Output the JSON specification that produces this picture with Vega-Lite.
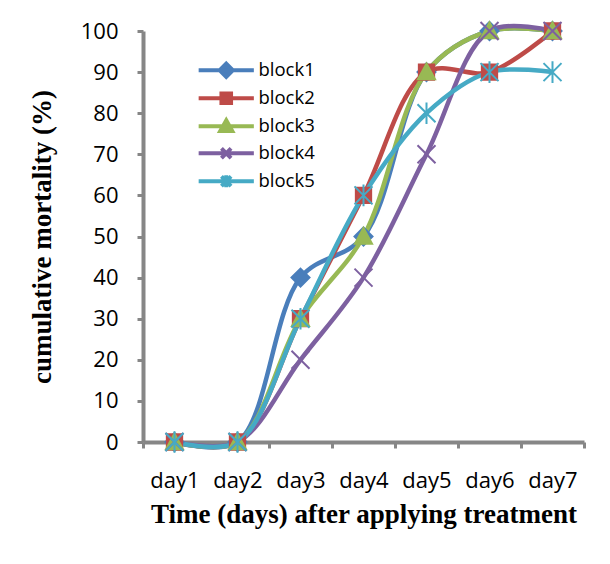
{
  "$schema": "https://vega.github.io/schema/vega-lite/v6.json",
  "width": 441,
  "height": 411,
  "autosize": "none",
  "padding": {"left": 143, "top": 31, "right": 26, "bottom": 122},
  "background": "white",
  "config": {
    "view": {"stroke": null},
    "axis": {
      "domainColor": "#868686",
      "domainWidth": 4,
      "tickColor": "#868686",
      "tickWidth": 3,
      "tickSize": 6,
      "grid": false,
      "labelFont": "Open Sans",
      "labelFontSize": 22,
      "labelColor": "#000000",
      "titleFont": "Liberation Serif",
      "titleFontSize": 27,
      "titleFontWeight": "bold",
      "titleColor": "#000000"
    },
    "legend": {
      "labelFont": "Open Sans",
      "labelFontSize": 18.5,
      "labelColor": "#000000"
    }
  },
  "resolve": {"legend": {"color": "independent", "shape": "independent", "stroke": "independent"}},
  "data": {
    "values": [
      {"day": "day1", "block": "block1", "mortality": 0},
      {"day": "day2", "block": "block1", "mortality": 0},
      {"day": "day3", "block": "block1", "mortality": 40},
      {"day": "day4", "block": "block1", "mortality": 50},
      {"day": "day5", "block": "block1", "mortality": 90},
      {"day": "day6", "block": "block1", "mortality": 100},
      {"day": "day7", "block": "block1", "mortality": 100},
      {"day": "day1", "block": "block2", "mortality": 0},
      {"day": "day2", "block": "block2", "mortality": 0},
      {"day": "day3", "block": "block2", "mortality": 30},
      {"day": "day4", "block": "block2", "mortality": 60},
      {"day": "day5", "block": "block2", "mortality": 90},
      {"day": "day6", "block": "block2", "mortality": 90},
      {"day": "day7", "block": "block2", "mortality": 100},
      {"day": "day1", "block": "block3", "mortality": 0},
      {"day": "day2", "block": "block3", "mortality": 0},
      {"day": "day3", "block": "block3", "mortality": 30},
      {"day": "day4", "block": "block3", "mortality": 50},
      {"day": "day5", "block": "block3", "mortality": 90},
      {"day": "day6", "block": "block3", "mortality": 100},
      {"day": "day7", "block": "block3", "mortality": 100},
      {"day": "day1", "block": "block4", "mortality": 0},
      {"day": "day2", "block": "block4", "mortality": 0},
      {"day": "day3", "block": "block4", "mortality": 20},
      {"day": "day4", "block": "block4", "mortality": 40},
      {"day": "day5", "block": "block4", "mortality": 70},
      {"day": "day6", "block": "block4", "mortality": 100},
      {"day": "day7", "block": "block4", "mortality": 100},
      {"day": "day1", "block": "block5", "mortality": 0},
      {"day": "day2", "block": "block5", "mortality": 0},
      {"day": "day3", "block": "block5", "mortality": 30},
      {"day": "day4", "block": "block5", "mortality": 60},
      {"day": "day5", "block": "block5", "mortality": 80},
      {"day": "day6", "block": "block5", "mortality": 90},
      {"day": "day7", "block": "block5", "mortality": 90}
    ]
  },
  "encoding": {
    "x": {
      "field": "day",
      "type": "ordinal",
      "scale": {"type": "band", "paddingInner": 0, "paddingOuter": 0},
      "axis": {
        "title": "Time (days) after applying treatment",
        "labelAngle": 0,
        "tickBand": "extent",
        "labelPadding": 22,
        "titlePadding": 10
      }
    },
    "y": {
      "field": "mortality",
      "type": "quantitative",
      "scale": {"domain": [0, 100], "nice": false, "zero": true},
      "axis": {
        "title": "cumulative mortality (%)",
        "values": [0, 10, 20, 30, 40, 50, 60, 70, 80, 90, 100],
        "labelPadding": 19,
        "titlePadding": 24
      }
    }
  },
  "layer": [
    {
      "mark": {"type": "line", "interpolate": "catmull-rom", "strokeWidth": 4.5, "clip": false},
      "encoding": {
        "color": {
          "field": "block",
          "type": "nominal",
          "scale": {"domain": ["block1", "block2", "block3", "block4", "block5"], "range": ["#4A7EBB", "#BE4B48", "#98B954", "#7D60A0", "#46AAC5"]},
          "legend": {
            "title": null,
            "orient": "none",
            "legendX": 74,
            "legendY": 30,
            "padding": 0,
            "rowPadding": 0,
            "symbolSize": 144,
            "labelOffset": 23,
            "symbolStrokeWidth": 4,
            "encode": {
              "symbols": {
                "update": {
                  "shape": {"signal": "datum.value === 'block1' ? 'M-4.6,0L4.6,0M0,-1.1L1.1,0L0,1.1L-1.1,0Z' : datum.value === 'block2' ? 'M-4.6,0L4.6,0M-0.8,-0.8L0.8,-0.8L0.8,0.8L-0.8,0.8Z' : datum.value === 'block3' ? 'M-4.6,0L4.6,0M0,-1L1,0.8L-1,0.8Z' : datum.value === 'block4' ? 'M-4.6,0L4.6,0M-0.8,-0.8L0.8,0.8M-0.8,0.8L0.8,-0.8' : 'M-4.6,0L4.6,0M-0.8,-0.8L0.8,0.8M-0.8,0.8L0.8,-0.8M0,-1L0,1'"},
                  "fill": {"signal": "datum.value === 'block1' ? '#4A7EBB' : datum.value === 'block2' ? '#BE4B48' : datum.value === 'block3' ? '#98B954' : datum.value === 'block4' ? '#7D60A0' : '#46AAC5'"},
                  "stroke": {"signal": "datum.value === 'block1' ? '#4A7EBB' : datum.value === 'block2' ? '#BE4B48' : datum.value === 'block3' ? '#98B954' : datum.value === 'block4' ? '#7D60A0' : '#46AAC5'"},
                  "strokeWidth": {"value": 4},
                  "opacity": {"value": 1}
                }
              }
            }
          }
        }
      }
    },
    {
      "mark": {"type": "point", "filled": true, "opacity": 1, "size": 324, "strokeWidth": 2, "clip": false},
      "encoding": {
        "color": {"field": "block", "type": "nominal", "legend": null},
        "stroke": {
          "field": "block",
          "type": "nominal",
          "scale": {"domain": ["block1", "block2", "block3", "block4", "block5"], "range": ["#4A7EBB", "#BE4B48", "#98B954", "#7D60A0", "#46AAC5"]},
          "legend": null
        },
        "shape": {
          "field": "block",
          "type": "nominal",
          "scale": {"domain": ["block1", "block2", "block3", "block4", "block5"], "range": ["M0,-1L1,0L0,1L-1,0Z", "M-0.85,-0.85L0.85,-0.85L0.85,0.85L-0.85,0.85Z", "M0,-0.95L0.95,0.8L-0.95,0.8Z", "M-1,-1L1,1M-1,1L1,-1", "M-1,-1L1,1M-1,1L1,-1M0,-1.2L0,1.2"]},
          "legend": null
        }
      }
    }
  ]
}
